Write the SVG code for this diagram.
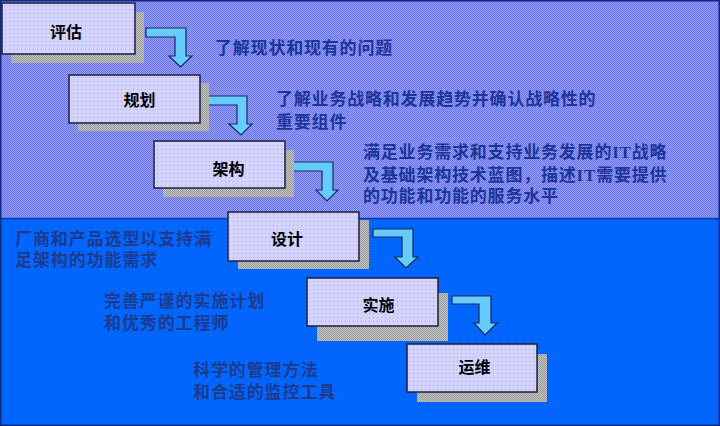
<svg xmlns="http://www.w3.org/2000/svg" width="720" height="426" viewBox="0 0 720 426">
<defs>
<pattern id="pUp" width="2" height="2" patternUnits="userSpaceOnUse">
<rect width="2" height="2" fill="#9a9cff"/>
<rect width="1" height="1" fill="#6677ee"/>
<rect x="1" y="1" width="1" height="1" fill="#6677ee"/>
</pattern>
<pattern id="pLow" width="8" height="8" patternUnits="userSpaceOnUse">
<rect width="8" height="8" fill="#0066ff"/>
<rect x="3" y="3" width="1" height="1" fill="#0a3a9a"/>
</pattern>
<pattern id="pBox" width="4" height="4" patternUnits="userSpaceOnUse">
<rect width="4" height="4" fill="#d4d2ff"/>
<rect x="1" y="1" width="1" height="1" fill="#a9a6dc"/>
</pattern>
<pattern id="pSh" width="2" height="2" patternUnits="userSpaceOnUse">
<rect width="2" height="2" fill="#c4c4c4"/>
<rect width="1" height="1" fill="#999999"/>
<rect x="1" y="1" width="1" height="1" fill="#999999"/>
</pattern>
</defs>
<style>
.box{fill:url(#pBox);stroke:#1e1e3a;stroke-width:1.5}
.sh{fill:url(#pSh)}
.lbl{font-family:"Noto Sans CJK SC",sans-serif;font-size:16px;font-weight:bold;fill:#000;text-anchor:middle}
.desc{font-family:"Liberation Serif","Noto Sans CJK SC",serif;font-size:17px;font-weight:bold;letter-spacing:0.8px;fill:#1c3596}
.descL{font-family:"Liberation Serif","Noto Sans CJK SC",serif;font-size:17px;font-weight:bold;letter-spacing:0.9px;fill:#1d3a8c}
.arr{fill:#66ccff;stroke:#1a2855;stroke-width:1.2;stroke-linejoin:miter}
</style>
<g id="background">
<rect x="0" y="0" width="720" height="218" fill="url(#pUp)"/>
<rect x="0" y="218" width="720" height="208" fill="url(#pLow)"/>
<line x1="0" y1="218.5" x2="720" y2="218.5" stroke="#0a3ab0" stroke-width="1.5"/>
<rect x="0.75" y="0.75" width="718.5" height="424.5" fill="none" stroke="#102a80" stroke-width="1.5"/>
</g>
<g id="connectors">
<path class="arr" d="M146,28 H186 V56 H192 L180.5,67 L169,56 H175 V37 H146 Z"/>
<path class="arr" d="M207,96 H247 V124 H252 L241,135 L229,124 H237 V105 H207 Z"/>
<path class="arr" d="M293,162 H333 V190 H338 L327,201 L316,190 H322 V171 H293 Z"/>
<path class="arr" d="M373,229 H413 V257 H418 L406,268 L395,257 H402 V237 H373 Z"/>
<path class="arr" d="M452,296 H491 V323 H497 L485,335 L474,323 H479 V304 H452 Z"/>
</g>
<g id="node-pinggu">
<rect class="sh" x="11" y="12" width="133" height="51"/>
<rect class="box" x="2" y="3" width="133" height="51"/>
<text class="lbl" x="66" y="37.5">评估</text>
</g>
<g id="node-guihua">
<rect class="sh" x="78" y="83" width="131" height="48"/>
<rect class="box" x="69" y="75" width="131" height="48"/>
<text class="lbl" x="139.5" y="106">规划</text>
</g>
<g id="node-jiagou">
<rect class="sh" x="163" y="150" width="131" height="47"/>
<rect class="box" x="154" y="141" width="131" height="47"/>
<text class="lbl" x="228.5" y="175">架构</text>
</g>
<g id="node-sheji">
<rect class="sh" x="238" y="220" width="131" height="49"/>
<rect class="box" x="228" y="212" width="131" height="49"/>
<text class="lbl" x="287" y="244.5">设计</text>
</g>
<g id="node-shishi">
<rect class="sh" x="317" y="293" width="131" height="48"/>
<rect class="box" x="307" y="278" width="131" height="48"/>
<text class="lbl" x="378.5" y="311">实施</text>
</g>
<g id="node-yunwei">
<rect class="sh" x="417" y="354" width="130" height="48"/>
<rect class="box" x="407" y="344" width="130" height="48"/>
<text class="lbl" x="474.5" y="373">运维</text>
</g>
<g id="descriptions">
<text class="desc" x="215" y="53.5">了解现状和现有的问题</text>
<text class="desc" x="276" y="104.5">了解业务战略和发展趋势并确认战略性的</text>
<text class="desc" x="276" y="127.5">重要组件</text>
<text class="desc" x="363" y="158">满足业务需求和支持业务发展的IT战略</text>
<text class="desc" x="363" y="180.5">及基础架构技术蓝图，描述IT需要提供</text>
<text class="desc" x="363" y="202">的功能和功能的服务水平</text>
<text class="descL" x="15" y="244.5">厂商和产品选型以支持满</text>
<text class="descL" x="15" y="265.5">足架构的功能需求</text>
<text class="descL" x="104" y="307">完善严谨的实施计划</text>
<text class="descL" x="104" y="329">和优秀的工程师</text>
<text class="descL" x="193" y="375.5">科学的管理方法</text>
<text class="descL" x="193" y="397.5">和合适的监控工具</text>
</g>
</svg>
